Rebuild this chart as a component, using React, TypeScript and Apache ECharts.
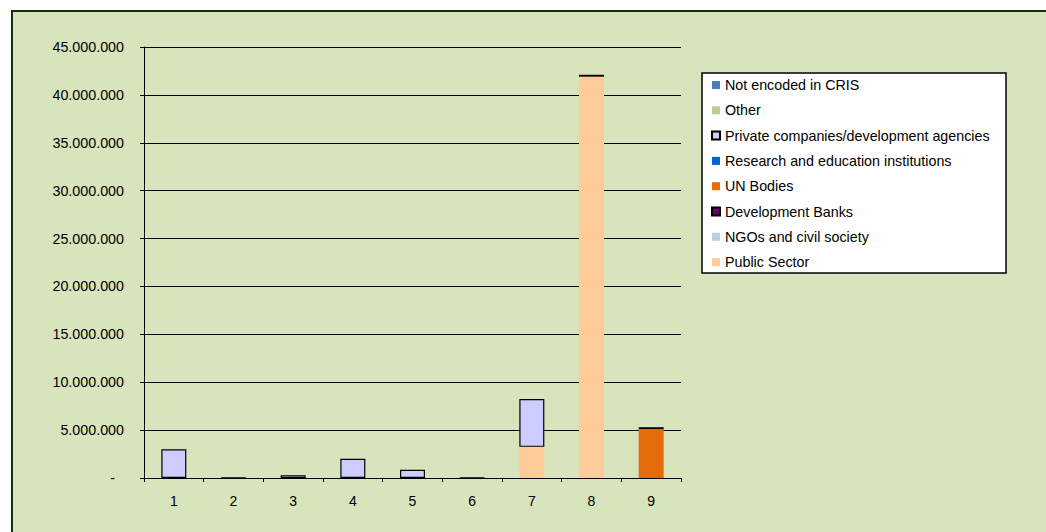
import React, { useEffect, useRef } from "react";
import * as echarts from "echarts";

const categories = ["1", "2", "3", "4", "5", "6", "7", "8", "9"];
const publicSector = [0, 0, 0, 0, 0, 0, 3250000, 41900000, 0];
const ngos = [0, 0, 0, 0, 0, 0, 0, 0, 0];
const devBanks = [0, 0, 0, 0, 0, 0, 0, 0, 0];
const unBodies = [0, 0, 0, 0, 0, 0, 0, 0, 5100000];
const research = [0, 0, 0, 0, 0, 0, 0, 0, 0];
const privateCompanies = [3000000, 30000, 300000, 2000000, 850000, 30000, 5000000, 200000, 200000];
const other = [0, 0, 0, 0, 0, 0, 0, 0, 0];
const notEncoded = [0, 0, 0, 0, 0, 0, 0, 0, 0];

const seriesDefs = [
  { name: "Public Sector", data: publicSector, color: "#FFCC99", border: false },
  { name: "NGOs and civil society", data: ngos, color: "#B9CDE5", border: false },
  { name: "Development Banks", data: devBanks, color: "#660066", border: true },
  { name: "UN Bodies", data: unBodies, color: "#E46C0A", border: false },
  { name: "Research and education institutions", data: research, color: "#0066CC", border: false },
  { name: "Private companies/development agencies", data: privateCompanies, color: "#CCCCFF", border: true },
  { name: "Other", data: other, color: "#B9CE96", border: false },
  { name: "Not encoded in CRIS", data: notEncoded, color: "#4A7EBB", border: false },
];

const legendOrder = [
  "Not encoded in CRIS",
  "Other",
  "Private companies/development agencies",
  "Research and education institutions",
  "UN Bodies",
  "Development Banks",
  "NGOs and civil society",
  "Public Sector",
];

const FONT = "Liberation Sans, Arial, sans-serif";

function fmt(v: number): string {
  if (v === 0) return "{z|-}";
  return String(Math.round(v)).replace(/\B(?=(\d{3})+(?!\d))/g, ".");
}

export default function App() {
  const ref = useRef<HTMLDivElement>(null);
  useEffect(() => {
    if (!ref.current) return;
    const chart = echarts.init(ref.current, undefined, { renderer: "svg" });
    chart.setOption({
      animation: false,
      backgroundColor: "#FFFFFF",
      graphic: [
        {
          type: "rect",
          z: -10,
          silent: true,
          shape: { x: 12, y: 11, width: 1100, height: 600 },
          style: { fill: "#D8E4BC", stroke: "#1E2A14", lineWidth: 2 },
        },
        {
          type: "rect",
          z: -5,
          silent: true,
          shape: { x: 702, y: 73, width: 304, height: 200 },
          style: { fill: "#FFFFFF", stroke: "#000000", lineWidth: 1.5 },
        },
      ],
      grid: { left: 144, right: 365, top: 47, bottom: 54, containLabel: false },
      legend: {
        orient: "vertical",
        left: 711,
        top: 77,
        padding: 0,
        itemWidth: 8,
        itemHeight: 8,
        itemGap: 9.3,
        icon: "rect",
        data: legendOrder,
        textStyle: { fontFamily: FONT, fontSize: 14.3, color: "#000", lineHeight: 16 },
      },
      xAxis: {
        type: "category",
        data: categories,
        axisLine: { lineStyle: { color: "#000", width: 1 } },
        axisTick: { show: true, length: 4, lineStyle: { color: "#000" } },
        axisLabel: { color: "#000", fontFamily: FONT, fontSize: 14, margin: 16 },
      },
      yAxis: {
        type: "value",
        min: 0,
        max: 45000000,
        interval: 5000000,
        axisLine: { show: true, lineStyle: { color: "#000", width: 1 } },
        axisTick: { show: true, length: 4, lineStyle: { color: "#000" } },
        splitLine: { show: true, lineStyle: { color: "#000", width: 1 } },
        axisLabel: {
          color: "#000",
          fontFamily: FONT,
          fontSize: 14.3,
          margin: 20,
          formatter: (v: number) => fmt(v),
          rich: { z: { fontFamily: FONT, fontSize: 14, color: "#000", padding: [0, 9, 0, 0] } },
        },
      },
      series: seriesDefs.map((s) => ({
        name: s.name,
        type: "bar",
        stack: "total",
        barWidth: 25,
        data: s.data.map((v) => (v === 0 ? null : v)),
        itemStyle: {
          color: s.color,
          borderColor: s.border ? "#000" : undefined,
          borderWidth: s.border ? 1.2 : 0,
        },
      })),
    });
    return () => chart.dispose();
  }, []);
  return (
    <div
      ref={ref}
      style={{ position: "absolute", left: 0, top: 0, width: 1046, height: 532 }}
    />
  );
}
